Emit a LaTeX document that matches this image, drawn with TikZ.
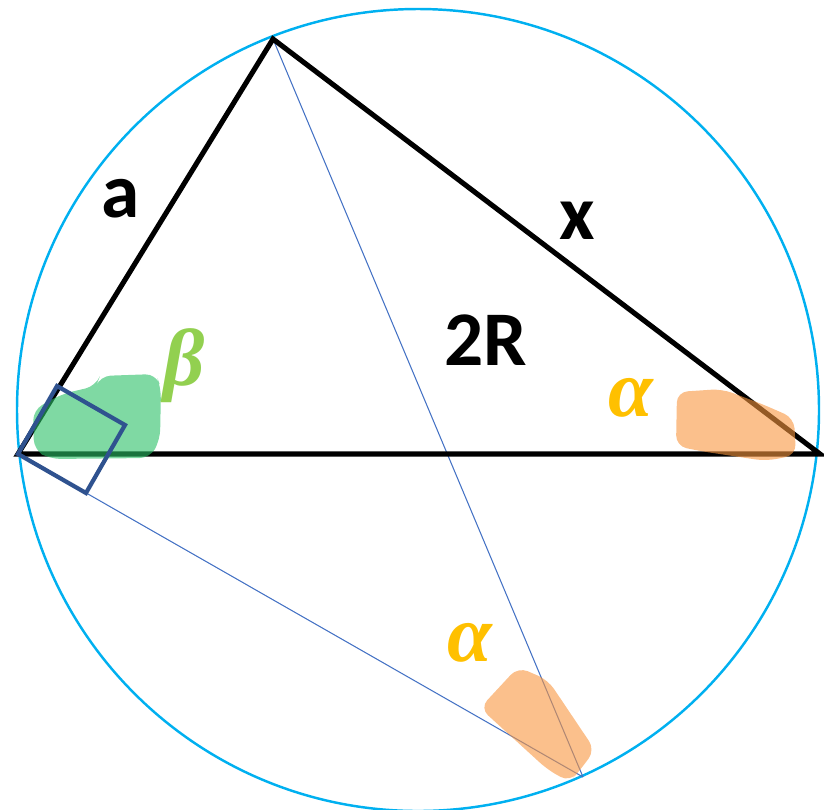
\documentclass[tikz,border=0pt]{standalone}
\usepackage{fontspec}
\setmainfont{Carlito}
\newfontfamily\greekfont{Liberation Serif}
\usetikzlibrary{calc}

\definecolor{rimblue}{RGB}{0,176,240}
\definecolor{chordblue}{RGB}{68,114,196}
\definecolor{boxblue}{RGB}{47,82,143}
\definecolor{betagreen}{RGB}{146,208,80}
\definecolor{alphagold}{RGB}{255,192,0}
\definecolor{blobgreen}{RGB}{42,192,102}
\definecolor{bloborange}{RGB}{248,150,63}

\begin{document}
\begin{tikzpicture}[x=0.02cm, y=-0.02cm,
  rim/.style={draw=rimblue, line width=1.4pt},
  side/.style={draw=black, line width=2.9pt, line join=miter},
  chord/.style={draw=chordblue, line width=0.6pt},
  rightangle/.style={draw=boxblue, line width=2.4pt},
  blob/.style={fill opacity=0.6, rounded corners=6pt},
  lbl/.style={font=\fontsize{44}{44}\selectfont\bfseries, inner sep=0pt},
  greek/.style={font=\greekfont\fontsize{46}{46}\selectfont\bfseries\itshape, inner sep=0pt}]
  \useasboundingbox (0,0) rectangle (824,809);

  \coordinate (T) at (273,39);
  \coordinate (L) at (18,454);
  \coordinate (Rt) at (820,454);
  \coordinate (B) at (583,777);

  \draw[rim] (418,410) circle [radius=401];

  % thin chords
  \draw[chord] (T) -- (B);
  \draw[chord] (L) -- (B);

  % triangle
  \draw[side] (T) -- (L) -- (Rt) -- cycle;

  % shaded angles
  \fill[blob, blobgreen] (33,410) -- (62,394) -- (96,386) -- (100,376) -- (156,374)
    -- (161,388) -- (160,440) -- (150,458) -- (50,459) -- (34,450) -- cycle;
  \fill[blob, bloborange] (677,392) -- (722,389) -- (762,404) -- (794,418) -- (796,455)
    -- (766,461) -- (700,451) -- (676,446) -- cycle;
  \fill[blob, bloborange] (480,708) -- (518,667) -- (548,680) -- (595,750)
    -- (580,770) -- (570,782) -- (548,770) -- cycle;

  % right angle mark
  \draw[rightangle] (L) -- ++(39,-68) -- ++(68,39) -- ++(-39,68) -- cycle;

  \node[lbl] (sideA) at (121,199) {a};
  \node[lbl] (sideX) at (577,221) {x};
  \node[lbl] (diam) at (486,340) {2R};
  \node[greek, text=betagreen] (angB) at (184,366) {β};
  \node[greek, text=alphagold] (angA) at (631,398) {α};
  \node[greek, text=alphagold] (angC) at (470,643) {α};
\end{tikzpicture}
\end{document}
